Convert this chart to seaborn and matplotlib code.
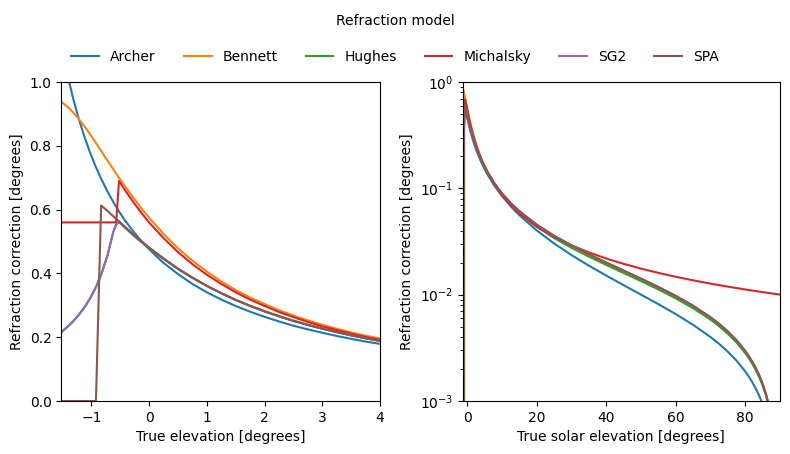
import numpy as np
import pandas as pd
import matplotlib
matplotlib.use("Agg")
import matplotlib.pyplot as plt
import seaborn as sns

models = ["Archer", "Bennett", "Hughes", "Michalsky", "SG2", "SPA"]

# left panel: near-horizon detail
x_left = [-1.52, -1.42, -1.32, -1.22, -1.12, -1.02, -0.92, -0.83, -0.72, -0.62, -0.57, -0.52,
          -0.42, -0.32, -0.22, -0.12, 0.0, 0.25, 0.5, 0.75, 1.0, 1.25, 1.5, 1.75, 2.0, 2.25,
          2.5, 2.75, 3.0, 3.25, 3.5, 3.75, 4.0]
archer_left = [1.117, 1.028, 0.952, 0.886, 0.829, 0.778, 0.733, 0.697, 0.657, 0.624, 0.609, 0.594,
               0.567, 0.543, 0.520, 0.499, 0.476, 0.433, 0.398, 0.367, 0.341, 0.318, 0.298, 0.280,
               0.264, 0.2495, 0.236, 0.2246, 0.214, 0.204, 0.195, 0.1865, 0.179]
bennett_left = [0.938, 0.924, 0.906, 0.885, 0.861, 0.836, 0.809, 0.784, 0.754, 0.727, 0.713, 0.700,
                0.674, 0.649, 0.625, 0.601, 0.575, 0.524, 0.479, 0.440, 0.406, 0.375, 0.348, 0.3247,
                0.304, 0.2848, 0.268, 0.2528, 0.239, 0.2267, 0.215, 0.205, 0.196]
hughes_left = [0.216, 0.231, 0.249, 0.269, 0.293, 0.322, 0.357, 0.396, 0.456, 0.530, 0.555, 0.561,
               0.544, 0.527, 0.511, 0.496, 0.479, 0.445, 0.414, 0.386, 0.361, 0.338, 0.317, 0.2987,
               0.282, 0.2662, 0.252, 0.239, 0.227, 0.2161, 0.206, 0.1964, 0.188]
michalsky_left = [0.56, 0.56, 0.56, 0.56, 0.56, 0.56, 0.56, 0.56, 0.56, 0.56, 0.56, 0.690,
                  0.662, 0.636, 0.611, 0.587, 0.560, 0.511, 0.467, 0.429, 0.396, 0.367, 0.341, 0.3179,
                  0.298, 0.2792, 0.263, 0.2478, 0.234, 0.2222, 0.211, 0.2008, 0.192]
sg2_left = [0.216, 0.232, 0.249, 0.270, 0.294, 0.322, 0.357, 0.396, 0.457, 0.530, 0.552, 0.563,
            0.546, 0.530, 0.514, 0.499, 0.481, 0.447, 0.415, 0.387, 0.361, 0.338, 0.317, 0.298,
            0.281, 0.2655, 0.251, 0.2385, 0.227, 0.216, 0.206, 0.197, 0.189]
spa_left = [0.0, 0.0, 0.0, 0.0, 0.0, 0.0, 0.0, 0.613, 0.596, 0.579, 0.571, 0.563,
            0.546, 0.530, 0.514, 0.499, 0.481, 0.447, 0.415, 0.387, 0.361, 0.338, 0.317, 0.298,
            0.281, 0.2655, 0.251, 0.2385, 0.227, 0.216, 0.206, 0.197, 0.189]

# right panel: full elevation range (log scale)
x_right = [-1.2, -0.92, -0.83, -0.5, 0, 0.5, 1, 2, 3, 4, 5, 6, 8, 10, 12.5, 15, 20, 25, 30, 35,
           40, 45, 50, 55, 60, 65, 70, 72.5, 75, 77.5, 80, 81, 82, 83, 84, 85, 86, 87, 88, 89, 90]
archer_right = [0.874, 0.733, 0.697, 0.589, 0.476, 0.398, 0.341, 0.264, 0.214, 0.179, 0.1529,
                0.1331, 0.1046, 0.0852, 0.0682, 0.0562, 0.0403, 0.0304, 0.02365, 0.01879, 0.01515,
                0.01231, 0.01003, 0.008156, 0.006576, 0.005210, 0.004004, 0.003446, 0.002912,
                0.002398, 0.001901, 0.001704, 0.001510, 0.001319, 0.001127, 0.000937, 0.000749,
                0.000562, 0.000373, 0.000186, 0.0]
bennett_right = [0.8805, 0.8088, 0.7842, 0.695, 0.5747, 0.4792, 0.4055, 0.3036, 0.2390, 0.1956,
                 0.1647, 0.1418, 0.1103, 0.08985, 0.07258, 0.06061, 0.04506, 0.03534, 0.02862,
                 0.02364, 0.01975, 0.01658, 0.01392, 0.01162, 0.009579, 0.007734, 0.006034,
                 0.005225, 0.004437, 0.003668, 0.002913, 0.002614, 0.002317, 0.002022, 0.001727,
                 0.001434, 0.001142, 0.000850, 0.000559, 0.000268, 0.0]
hughes_right = [0.2735, 0.3568, 0.3955, 0.5576, 0.4786, 0.4138, 0.3608, 0.2817, 0.2271, 0.1876,
                0.1585, 0.1377, 0.1075, 0.0875, 0.07056, 0.05882, 0.04363, 0.03418, 0.02766,
                0.02283, 0.01907, 0.01601, 0.01344, 0.01122, 0.009249, 0.007471, 0.005832,
                0.005052, 0.004294, 0.003553, 0.002826, 0.002538, 0.002252, 0.001968, 0.001684,
                0.001402, 0.001121, 0.000840, 0.000560, 0.000280, 0.0]
michalsky_right = [0.56, 0.56, 0.56, 0.6843, 0.5604, 0.4671, 0.3959, 0.2975, 0.2344, 0.1915,
                   0.1608, 0.1381, 0.1068, 0.08665, 0.06983, 0.05835, 0.04380, 0.03503, 0.02918,
                   0.02503, 0.02193, 0.01952, 0.01761, 0.01605, 0.01475, 0.01365, 0.01272,
                   0.01230, 0.01191, 0.01155, 0.01120, 0.01107, 0.01095, 0.01082, 0.01070,
                   0.01058, 0.01047, 0.01035, 0.01024, 0.01014, 0.01003]
sg2_right = [0.2750, 0.3587, 0.3977, 0.5614, 0.4830, 0.4167, 0.3624, 0.2821, 0.2277, 0.1893,
             0.1612, 0.1399, 0.1100, 0.09012, 0.07316, 0.06125, 0.04568, 0.03589, 0.02910,
             0.02405, 0.02010, 0.01688, 0.01417, 0.01183, 0.009753, 0.007874, 0.006142,
             0.005317, 0.004514, 0.003730, 0.002961, 0.002656, 0.002353, 0.002052, 0.001752,
             0.001453, 0.001155, 0.000858, 0.000561, 0.000264, 0.0]
spa_right = [0.0, 0.0, 0.6177, 0.5614, 0.4830, 0.4167, 0.3624, 0.2821, 0.2277, 0.1893,
             0.1612, 0.1399, 0.1100, 0.09012, 0.07316, 0.06125, 0.04568, 0.03589, 0.02910,
             0.02405, 0.02010, 0.01688, 0.01417, 0.01183, 0.009753, 0.007874, 0.006142,
             0.005317, 0.004514, 0.003730, 0.002961, 0.002656, 0.002353, 0.002052, 0.001752,
             0.001453, 0.001155, 0.000858, 0.000561, 0.000264, 0.0]


def to_long(x, series):
    df = pd.DataFrame(dict(zip(models, series)))
    df["elevation"] = x
    return df.melt(id_vars="elevation", var_name="model", value_name="refraction")


df_left = to_long(x_left, [archer_left, bennett_left, hughes_left, michalsky_left, sg2_left, spa_left])
df_right = to_long(x_right, [archer_right, bennett_right, hughes_right, michalsky_right, sg2_right, spa_right])

palette = dict(zip(models, sns.color_palette("tab10", 6)))

fig = plt.figure(figsize=(7.9, 4.54), dpi=100)
ax1 = fig.add_axes([0.0776, 0.1167, 0.4034, 0.7026])
ax2 = fig.add_axes([0.5857, 0.1167, 0.4016, 0.7026])

sns.lineplot(data=df_left, x="elevation", y="refraction", hue="model", hue_order=models,
             palette=palette, estimator=None, ax=ax1)
sns.lineplot(data=df_right, x="elevation", y="refraction", hue="model", hue_order=models,
             palette=palette, estimator=None, legend=False, ax=ax2)

ax1.set_xlim(-1.52, 4)
ax1.set_ylim(0, 1)
ax1.set_xlabel("True elevation [degrees]")
ax1.set_ylabel("Refraction correction [degrees]")

ax2.set_yscale("log")
ax2.set_xlim(-1.24, 90)
ax2.set_ylim(1e-3, 1)
ax2.set_xlabel("True solar elevation [degrees]")
ax2.set_ylabel("Refraction correction [degrees]")

handles, labels = ax1.get_legend_handles_labels()
ax1.get_legend().remove()
fig.legend(handles, labels, loc="center", bbox_to_anchor=(0.5, 1 - 57 / 454), ncol=6, frameon=False)
fig.text(0.5, 1 - 21 / 454, "Refraction model", ha="center", va="center", fontsize=10)

fig.savefig("out.png", dpi=100)
